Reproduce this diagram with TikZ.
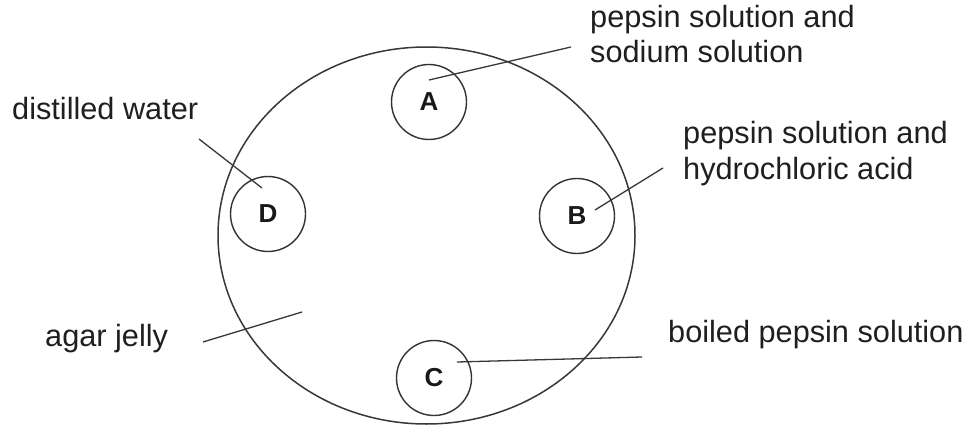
\documentclass[tikz,border=0pt]{standalone}
\usepackage{fontspec}
\setmainfont{Liberation Sans}
\begin{document}
\begin{tikzpicture}[x=1pt,y=-1pt,
  lab/.style={anchor=base west,inner sep=0pt,text=black!88,font=\fontsize{30.7}{36}\selectfont},
  well/.style={circle,draw=black!80,line width=1.4pt,minimum size=75pt,inner sep=0pt,font=\fontsize{26}{28}\selectfont\bfseries,text=black!90},
  leader/.style={draw=black!78,line width=1.3pt},
  dish/.style={draw=black!78,line width=1.5pt}]
\useasboundingbox (0,0) rectangle (972,425);
\fill[white] (0,0) rectangle (972,425);
% agar dish
\draw[dish] (426.5,235.5) ellipse [x radius=208.5pt, y radius=188.5pt];
% wells
\node[well] (A) at (429,102) {A};
\node[well] (B) at (577,216) {B};
\node[well] (C) at (434,378) {C};
\node[well] (D) at (268,214) {D};
% labels
\node[lab] (tA1) at (590,28) {pepsin solution and};
\node[lab] (tA2) at (590,63) {sodium solution};
\node[lab] (tD) at (12,120) {distilled water};
\node[lab] (tB1) at (683,143) {pepsin solution and};
\node[lab] (tB2) at (683,179) {hydrochloric acid};
\node[lab] (tG) at (45,346) {agar jelly};
\node[lab] (tC) at (668,342) {boiled pepsin solution};
% leader line ends
\coordinate (pA) at (429,80);
\coordinate (eA) at (571,47);
\coordinate (pB) at (595,210);
\coordinate (eB) at (663,168);
\coordinate (pC) at (457,362);
\coordinate (eC) at (642,357);
\coordinate (pD) at (262,188);
\coordinate (eD) at (199,139);
\coordinate (pG) at (302,312);
\coordinate (eG) at (203,342);
\draw[leader] (pA) -- (eA);
\draw[leader] (pB) -- (eB);
\draw[leader] (pC) -- (eC);
\draw[leader] (pD) -- (eD);
\draw[leader] (pG) -- (eG);
\end{tikzpicture}
\end{document}
